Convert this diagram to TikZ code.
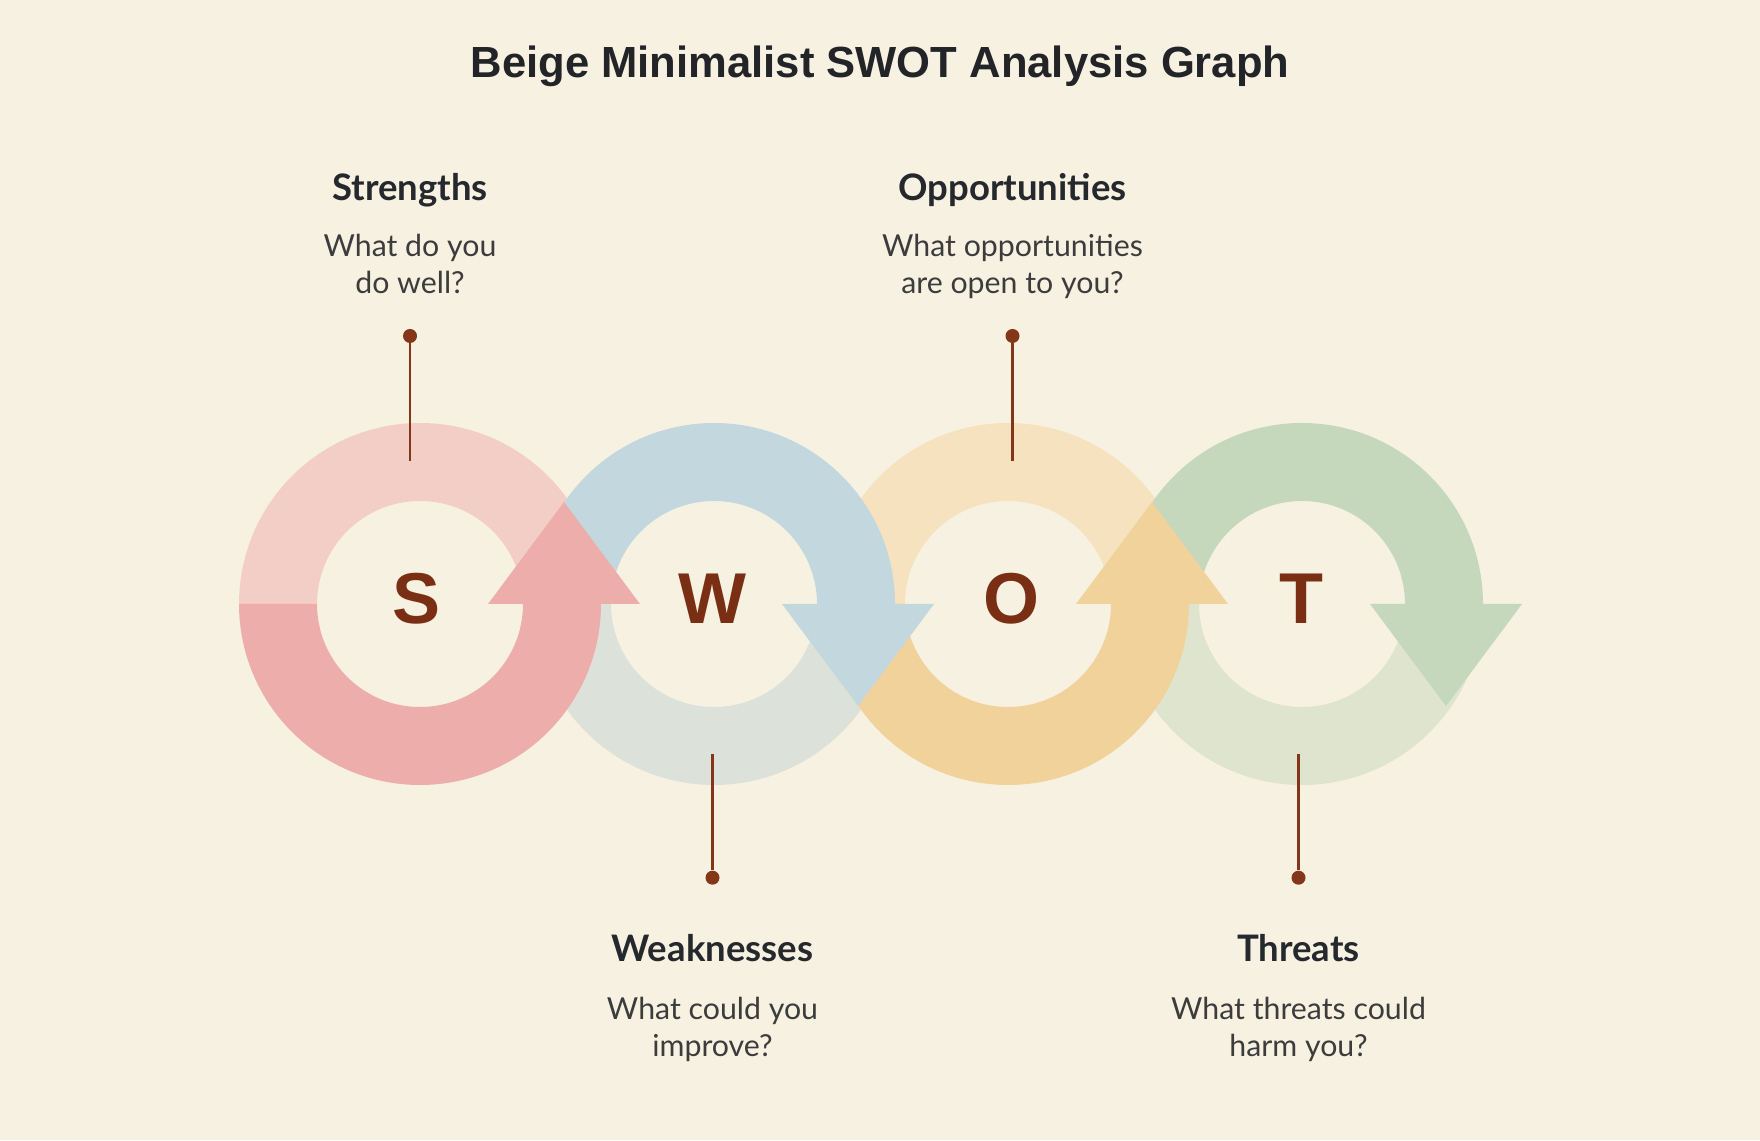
\documentclass[tikz,border=0pt]{standalone}
\usepackage{fontspec}
\setmainfont{Lato}
\newfontfamily\arialfont{Liberation Sans}
\definecolor{bgc}{HTML}{F7F1E2}
\definecolor{sLight}{HTML}{F3CEC6}
\definecolor{sDark}{HTML}{EDADAA}
\definecolor{wLight}{HTML}{DCE2DA}
\definecolor{wDark}{HTML}{C2D8DE}
\definecolor{oLight}{HTML}{F6E2BE}
\definecolor{oDark}{HTML}{F2D29B}
\definecolor{tLight}{HTML}{DEE4CD}
\definecolor{tDark}{HTML}{C5D8BC}
\definecolor{letc}{HTML}{7A2F15}
\definecolor{pinc}{HTML}{843618}
\definecolor{headc}{HTML}{25282C}
\definecolor{descc}{HTML}{3C3C3C}
\definecolor{titlec}{HTML}{222428}

\begin{document}
\begin{tikzpicture}[x=1pt,y=1pt,
        title/.style={font=\arialfont\bfseries\fontsize{43.6}{44}\selectfont,
                        text=titlec, anchor=base},
        head/.style={font=\bfseries\fontsize{36.5}{40}\selectfont,
                        text=headc, anchor=base},
        desc/.style={font=\fontsize{30.3}{37}\selectfont, text=descc,
                        align=center, anchor=base},
        letter/.style={font=\arialfont\bfseries\fontsize{72}{72}\selectfont,
                        text=letc, anchor=base},
        pin/.style={circle, fill=pinc, inner sep=0pt, minimum size=14pt},
        stick/.style={draw=pinc, line width=2.5pt}]
    \fill[bgc] (0,0) rectangle (1760,1140);
    \useasboundingbox (0,0) rectangle (1760,1140);

    \node[title] (title) at (880,1062) {Beige Minimalist SWOT Analysis Graph};

    % pale halves of the rings
    \foreach \cx/\col/\s in {420/sLight/1, 714/wLight/-1, 1008/oLight/1, 1302/tLight/-1}
        \fill[\col] (\cx-181,536) arc[start angle=180, end angle={180-180*(\s)}, radius=181]
            -- (\cx+103,536) arc[start angle={180-180*(\s)}, end angle=180, radius=103]
            -- cycle;

    % arrows, S last so it lies on top
    \foreach \cx/\col/\s in {1302/tDark/1, 1008/oDark/-1, 714/wDark/1, 420/sDark/-1}
        \fill[\col] (\cx-181,536) arc[start angle=180, end angle={180-180*(\s)}, radius=181]
            -- (\cx+220,536) -- (\cx+144,{536-102*(\s)}) -- (\cx+68,536)
            -- (\cx+103,536) arc[start angle={180-180*(\s)}, end angle=180, radius=103]
            -- cycle;

    \node[letter] (s-letter) at (417,516.7) {S};
    \node[letter] (w-letter) at (712,516.7) {W};
    \node[letter] (o-letter) at (1011,516.7) {O};
    \node[letter] (t-letter) at (1301,516.7) {T};

    % base of a desc node is its second line
    \foreach \n/\tx/\hy/\dy/\py/\ly/\hd/\ds in {
            s/410/939.8/846.6/804/679.3/Strengths/{What do you\\do well?},
            w/712.5/178/83.6/262.3/386/Weaknesses/{What could you\\improve?},
            o/1012.5/939.8/846.6/804/679.3/Opportunities/{What opportunities\\are open to you?},
            t/1298.5/178/83.6/262.3/386/Threats/{What threats could\\harm you?}} {
        \node[head] (\n-head) at (\tx,\hy) {\hd};
        \node[desc] (\n-desc) at (\tx,\dy) {\ds};
        \node[pin] (\n-pin) at (\tx,\py) {};
        \coordinate (\n-end) at (\tx,\ly);
        \draw[stick] (\n-pin) -- (\n-end);
    }
\end{tikzpicture}
\end{document}
